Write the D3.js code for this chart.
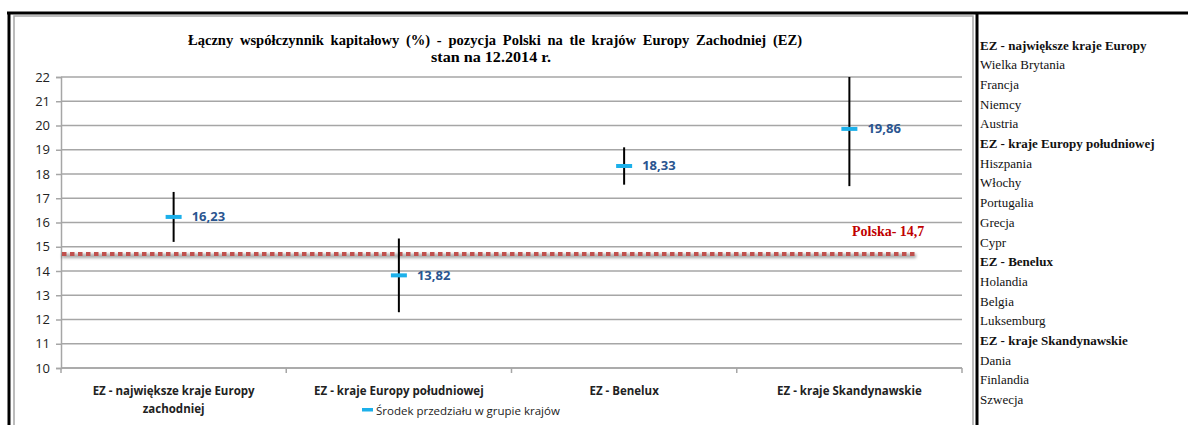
<!DOCTYPE html>
<html>
<head>
<meta charset="utf-8">
<script src="https://cdn.jsdelivr.net/npm/d3@7"></script>
<style>
  body { margin: 0; background: white; }
  svg { display: block; }
</style>
</head>
<body>
<div id="chart"></div>
<script>
// data
const categories = [
  ["EZ - największe kraje Europy", "zachodniej"],
  ["EZ - kraje Europy południowej"],
  ["EZ - Benelux"],
  ["EZ - kraje Skandynawskie"],
];
const lows = [15.2, 12.3, 17.56, 17.5];
const highs = [17.26, 15.34, 19.1, 22.22];
const mids = [16.23, 13.82, 18.33, 19.86];
const polska = 14.7;
const yTicks = d3.range(10, 23);
const legendRows = [
  ["EZ - największe kraje Europy", true],
  ["Wielka Brytania", false],
  ["Francja", false],
  ["Niemcy", false],
  ["Austria", false],
  ["EZ - kraje Europy południowej", true],
  ["Hiszpania", false],
  ["Włochy", false],
  ["Portugalia", false],
  ["Grecja", false],
  ["Cypr", false],
  ["EZ - Benelux", true],
  ["Holandia", false],
  ["Belgia", false],
  ["Luksemburg", false],
  ["EZ - kraje Skandynawskie", true],
  ["Dania", false],
  ["Finlandia", false],
  ["Szwecja", false],
];

const width = 1188;
const height = 425;
const plot = { left: 61, right: 962, top: 77, bottom: 368 };
const sans = "'Open Sans', sans-serif";
const serif = "'Liberation Serif', 'Times New Roman', serif";

const svg = d3.select("#chart").append("svg")
  .attr("width", width)
  .attr("height", height);

const defs = svg.append("defs");
defs.append("clipPath").attr("id", "plotclip")
  .append("rect")
  .attr("x", plot.left).attr("y", plot.top)
  .attr("width", plot.right - plot.left).attr("height", plot.bottom - plot.top);

defs.append("filter").attr("id", "blur")
  .attr("filterUnits", "userSpaceOnUse")
  .attr("x", 0).attr("y", 0).attr("width", width).attr("height", height)
  .append("feGaussianBlur").attr("stdDeviation", 1.6);

// frames
svg.append("rect")
  .attr("x", 14).attr("y", 16).attr("width", 959).attr("height", 430)
  .attr("fill", "none").attr("stroke", "#a6a6a6").attr("stroke-width", 1.5);
svg.append("line").attr("x1", 7).attr("x2", width).attr("y1", 13).attr("y2", 13)
  .attr("stroke", "#000").attr("stroke-width", 3);
svg.append("line").attr("x1", 9).attr("x2", 9).attr("y1", 12).attr("y2", height)
  .attr("stroke", "#000").attr("stroke-width", 3);
svg.append("line").attr("x1", 977).attr("x2", 977).attr("y1", 12).attr("y2", height)
  .attr("stroke", "#000").attr("stroke-width", 3);

// scales
const x = d3.scaleBand().domain(d3.range(categories.length))
  .range([plot.left, plot.right]);
const y = d3.scaleLinear().domain([10, 22]).range([plot.bottom, plot.top]);

// title
const title = svg.append("text")
  .attr("text-anchor", "middle")
  .attr("font-family", serif)
  .attr("font-weight", "bold")
  .attr("font-size", 14)
  .attr("fill", "#000");
title.append("tspan").attr("x", 495).attr("y", 45)
  .attr("textLength", 614).attr("lengthAdjust", "spacingAndGlyphs")
  .attr("word-spacing", 3)
  .text("Łączny współczynnik kapitałowy (%) - pozycja Polski na tle krajów Europy Zachodniej (EZ)");
title.append("tspan").attr("x", 491).attr("y", 62)
  .attr("textLength", 120).attr("lengthAdjust", "spacingAndGlyphs")
  .text("stan na 12.2014 r.");

// gridlines
svg.append("g")
  .selectAll("line")
  .data(yTicks)
  .join("line")
  .attr("x1", plot.left).attr("x2", plot.right)
  .attr("y1", d => y(d)).attr("y2", d => y(d))
  .attr("stroke", "#a6a6a6").attr("stroke-width", 1.5);

// y axis
const yAxis = svg.append("g")
  .attr("transform", `translate(${plot.left},0)`)
  .call(d3.axisLeft(y).tickValues(yTicks).tickSize(5).tickPadding(6));
yAxis.select(".domain").attr("stroke", "#a6a6a6").attr("stroke-width", 1.5);
yAxis.selectAll(".tick line").attr("stroke", "#a6a6a6").attr("stroke-width", 1.5);
yAxis.selectAll(".tick text")
  .attr("font-family", sans).attr("font-size", 13).attr("fill", "#222");

// x axis ticks at band boundaries
const xAxis = svg.append("g")
  .attr("transform", `translate(0,${plot.bottom})`);
xAxis.append("line")
  .attr("x1", plot.left).attr("x2", plot.right)
  .attr("stroke", "#a6a6a6").attr("stroke-width", 1.5);
xAxis.selectAll(".bt")
  .data(d3.range(categories.length + 1))
  .join("line")
  .attr("class", "bt")
  .attr("x1", d => plot.left + d * x.step())
  .attr("x2", d => plot.left + d * x.step())
  .attr("y1", 0).attr("y2", 5)
  .attr("stroke", "#a6a6a6").attr("stroke-width", 1.5);

const xLabels = svg.append("g")
  .selectAll("text")
  .data(categories)
  .join("text")
  .attr("text-anchor", "middle")
  .attr("font-family", sans).attr("font-weight", "bold")
  .attr("font-size", 11.5).attr("fill", "#222");
xLabels.each(function (lines, i) {
  d3.select(this).selectAll("tspan")
    .data(lines)
    .join("tspan")
    .attr("x", x(i) + x.bandwidth() / 2)
    .attr("y", (d, j) => 395 + j * 18)
    .text(d => d);
});

// Polska reference line (soft shadow + dotted red)
svg.append("line")
  .attr("x1", plot.left + 1).attr("x2", 916)
  .attr("y1", y(polska) + 2).attr("y2", y(polska) + 2)
  .attr("stroke", "#000").attr("stroke-opacity", 0.35).attr("stroke-width", 4)
  .attr("filter", "url(#blur)");
svg.append("line")
  .attr("x1", plot.left + 1).attr("x2", 916)
  .attr("y1", y(polska)).attr("y2", y(polska))
  .attr("stroke", "#c0504d").attr("stroke-width", 4)
  .attr("stroke-dasharray", "4.5 3.5");
svg.append("text")
  .attr("x", 852).attr("y", 236)
  .attr("font-family", serif).attr("font-weight", "bold")
  .attr("font-size", 14).attr("fill", "#c00000")
  .text("Polska- " + String(polska).replace(".", ","));

// range bars
const bars = svg.append("g").attr("clip-path", "url(#plotclip)");
bars.selectAll("line")
  .data(categories)
  .join("line")
  .attr("x1", (d, i) => x(i) + x.bandwidth() / 2)
  .attr("x2", (d, i) => x(i) + x.bandwidth() / 2)
  .attr("y1", (d, i) => y(highs[i]))
  .attr("y2", (d, i) => y(lows[i]))
  .attr("stroke", "#000").attr("stroke-width", 2);

// midpoints
svg.append("g")
  .selectAll("rect")
  .data(mids)
  .join("rect")
  .attr("x", (d, i) => x(i) + x.bandwidth() / 2 - 8)
  .attr("y", d => y(d) - 2)
  .attr("width", 16).attr("height", 4)
  .attr("fill", "#1cb0ea");

svg.append("g")
  .selectAll("text")
  .data(mids)
  .join("text")
  .attr("x", (d, i) => x(i) + x.bandwidth() / 2 + 18)
  .attr("y", d => y(d) + 4.5)
  .attr("font-family", sans).attr("font-weight", "bold")
  .attr("font-size", 13).attr("fill", "#2a5590")
  .text(d => d.toFixed(2).replace(".", ","));

// bottom legend
svg.append("rect")
  .attr("x", 362).attr("y", 408).attr("width", 11).attr("height", 3.5)
  .attr("fill", "#1cb0ea");
svg.append("text")
  .attr("x", 376).attr("y", 415)
  .attr("font-family", sans).attr("font-size", 11.5).attr("fill", "#222")
  .text("Środek przedziału w grupie krajów");

// right side country list
svg.append("g")
  .selectAll("text")
  .data(legendRows)
  .join("text")
  .attr("x", 980)
  .attr("y", (d, i) => 49.5 + i * 19.7)
  .attr("font-family", serif)
  .attr("font-size", 13)
  .attr("font-weight", d => (d[1] ? "bold" : "normal"))
  .attr("fill", "#111")
  .text(d => d[0]);
</script>
</body>
</html>
